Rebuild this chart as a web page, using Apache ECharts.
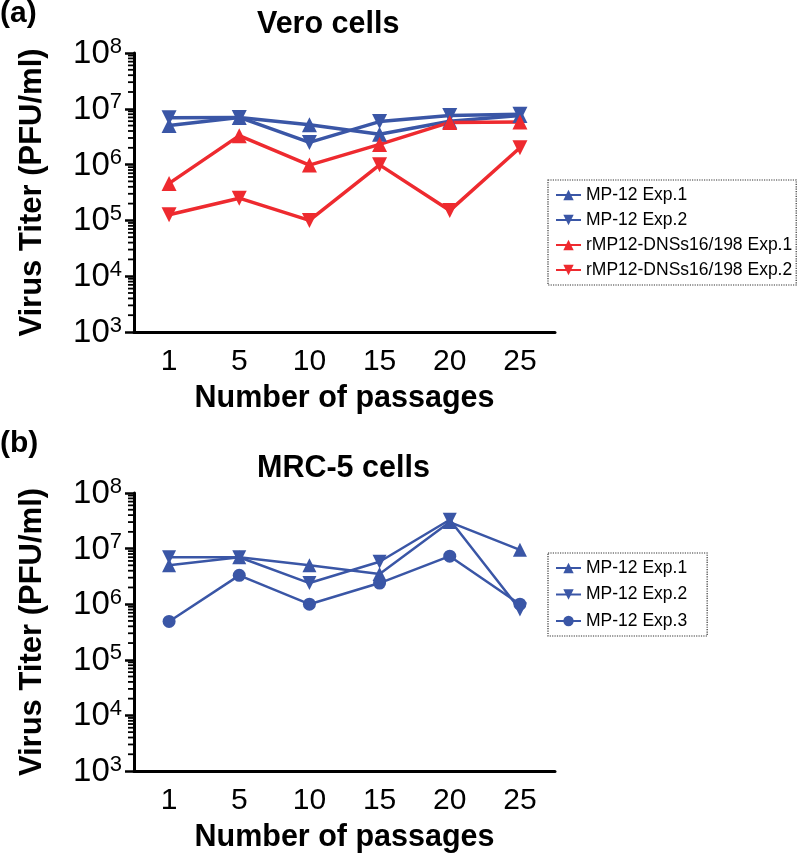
<!DOCTYPE html>
<html><head><meta charset="utf-8">
<script src="https://cdn.jsdelivr.net/npm/echarts@6/dist/echarts.min.js"></script>
<style>html,body{margin:0;padding:0;background:#fff}#c{width:800px;height:854px}</style>
</head><body><div id="c"></div>
<script>
// ---- data ----
const passages = ['1', '5', '10', '15', '20', '25'];
// Panel (a): Vero cells (PFU/ml)
const veroMP12Exp1 = [5.0e6, 7.0e6, 5.2e6, 3.5e6, 6.0e6, 7.6e6];
const veroMP12Exp2 = [6.9e6, 7.0e6, 2.5e6, 5.9e6, 7.6e6, 8.0e6];
const veroDNSsExp1 = [4.6e5, 3.3e6, 9.8e5, 2.3e6, 5.7e6, 5.8e6];
const veroDNSsExp2 = [1.26e5, 2.5e5, 1.0e5, 9.9e5, 1.5e5, 2.0e6];
// Panel (b): MRC-5 cells (PFU/ml)
const mrcMP12Exp1 = [5.0e6, 7.0e6, 5.0e6, 3.5e6, 3.0e7, 9.5e6];
const mrcMP12Exp2 = [7.0e6, 7.0e6, 2.4e6, 5.8e6, 3.3e7, 8.0e5];
const mrcMP12Exp3 = [4.9e5, 3.3e6, 1.0e6, 2.4e6, 7.3e6, 1.0e6];
const yMin = 1e3, yMax = 1e8;
const seriesNamesA = ['MP-12 Exp.1', 'MP-12 Exp.2', 'rMP12-DNSs16/198 Exp.1', 'rMP12-DNSs16/198 Exp.2'];
const seriesNamesB = ['MP-12 Exp.1 ', 'MP-12 Exp.2 ', 'MP-12 Exp.3'];

// ---- style ----
const BLUE = '#3A56A6', RED = '#EE2A2F';
const FONT = 'Liberation Sans, Arial, sans-serif';
// log-spaced minor tick values (2..9 x 10^k)
const minorVals = [];
for (let k = 3; k < 8; k++) for (let m = 2; m <= 9; m++) minorVals.push(m * Math.pow(10, k));

function xAxisCfg(gi) {
  return {
    type: 'category', gridIndex: gi, data: passages, boundaryGap: true,
    name: 'Number of passages', nameLocation: 'middle', nameGap: 51,
    nameTextStyle: { fontFamily: FONT, fontWeight: 'bold', fontSize: 30.5, color: '#000' },
    axisLine: { lineStyle: { color: '#000', width: 3 } },
    axisTick: { alignWithLabel: true, length: 8, lineStyle: { color: '#000', width: 3 } },
    axisLabel: { fontFamily: FONT, fontSize: 30, color: '#000', margin: 15 },
    splitLine: { show: false }
  };
}
function yAxisCfg(gi) {
  return {
    type: 'log', logBase: 10, gridIndex: gi, min: yMin, max: yMax, interval: 1,
    name: 'Virus Titer (PFU/ml)', nameLocation: 'middle', nameGap: 86, nameRotate: 90,
    nameTextStyle: { fontFamily: FONT, fontWeight: 'bold', fontSize: 31, color: '#000' },
    axisLine: { show: true, lineStyle: { color: '#000', width: 3 } },
    axisTick: { show: true, length: 9, lineStyle: { color: '#000', width: 2.5 } },
    minorTick: { show: false },
    axisLabel: {
      margin: 12, color: '#000',
      formatter: function (v) { return '{a|10}{b|' + Math.round(Math.log10(v)) + '}'; },
      rich: {
        a: { fontFamily: FONT, fontSize: 33, lineHeight: 35, verticalAlign: 'bottom', color: '#000' },
        b: { fontFamily: FONT, fontSize: 22, lineHeight: 22, verticalAlign: 'top', color: '#000' }
      }
    },
    splitLine: { show: false }
  };
}
// log-spaced minor ticks drawn through the y scale of each grid
function minorTickSeries(gi) {
  return {
    type: 'custom', xAxisIndex: gi, yAxisIndex: gi, silent: true, clip: false, z: 5,
    data: minorVals.map(v => [passages[0], v]),
    renderItem: function (params, api) {
      const y = api.coord([api.value(0), api.value(1)])[1];
      const x = params.coordSys.x;
      return { type: 'line', shape: { x1: x - 6, y1: y, x2: x, y2: y },
        style: { stroke: '#000', lineWidth: 1.8 } };
    },
    animation: false
  };
}
function lineSeries(name, data, color, symbol, rot, gi, lw, size) {
  return {
    name: name, type: 'line', data: data, xAxisIndex: gi, yAxisIndex: gi,
    symbol: symbol, symbolRotate: rot, symbolSize: size,
    lineStyle: { color: color, width: lw }, itemStyle: { color: color },
    emphasis: { disabled: true }, animation: false, z: 3
  };
}
const legendText = { fontFamily: FONT, fontSize: 17.5, color: '#000', lineHeight: 20 };
const titleStyle = { fontFamily: FONT, fontWeight: 'bold', color: '#000' };

const option = {
  animation: false,
  title: [
    { text: '(a)', left: 0, top: -1, textStyle: Object.assign({ fontSize: 30 }, titleStyle), padding: 0 },
    { text: 'Vero cells', left: 257, top: 9, textStyle: Object.assign({ fontSize: 30.5 }, titleStyle), padding: 0 },
    { text: '(b)', left: 0, top: 429, textStyle: Object.assign({ fontSize: 30 }, titleStyle), padding: 0 },
    { text: 'MRC-5 cells', left: 257, top: 453, textStyle: Object.assign({ fontSize: 30.5 }, titleStyle), padding: 0 }
  ],
  grid: [
    { left: 134, right: 245, top: 53, height: 279 },
    { left: 134, right: 245, top: 493, height: 280 }
  ],
  xAxis: [xAxisCfg(0), xAxisCfg(1)],
  yAxis: [yAxisCfg(0), yAxisCfg(1)],
  legend: [
    {
      data: seriesNamesA, orient: 'vertical', left: 548, top: 180,
      itemWidth: 25, itemHeight: 13, itemGap: 5, padding: [5, 4, 5, 7],
      borderColor: '#333', borderWidth: 1.2, borderType: 'dotted',
      textStyle: legendText, selectedMode: false
    },
    {
      data: seriesNamesB, orient: 'vertical', left: 548, top: 553,
      itemWidth: 25, itemHeight: 13, itemGap: 6.5, padding: [5, 20, 5, 7],
      borderColor: '#333', borderWidth: 1.2, borderType: 'dotted',
      textStyle: legendText, selectedMode: false,
      formatter: function (n) { return n.trim(); }
    }
  ],
  series: [
    lineSeries(seriesNamesA[0], veroMP12Exp1, BLUE, 'triangle', 0, 0, 3.5, 15),
    lineSeries(seriesNamesA[1], veroMP12Exp2, BLUE, 'triangle', 180, 0, 3.5, 15),
    lineSeries(seriesNamesA[2], veroDNSsExp1, RED, 'triangle', 0, 0, 3.5, 15),
    lineSeries(seriesNamesA[3], veroDNSsExp2, RED, 'triangle', 180, 0, 3.5, 15),
    lineSeries(seriesNamesB[0], mrcMP12Exp1, BLUE, 'triangle', 0, 1, 2.5, 14),
    lineSeries(seriesNamesB[1], mrcMP12Exp2, BLUE, 'triangle', 180, 1, 2.5, 14),
    lineSeries(seriesNamesB[2], mrcMP12Exp3, BLUE, 'circle', 0, 1, 2.5, 13),
    minorTickSeries(0),
    minorTickSeries(1)
  ]
};
const chart = echarts.init(document.getElementById('c'), null, { renderer: 'canvas' });
chart.setOption(option);
</script></body></html>
